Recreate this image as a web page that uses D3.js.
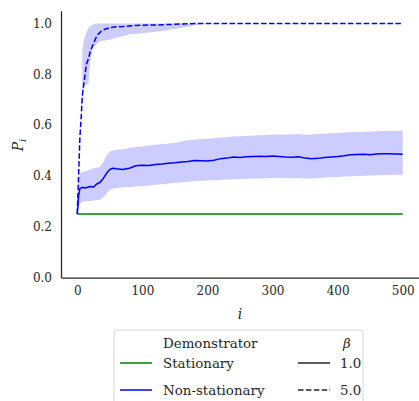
<!DOCTYPE html>
<html>
<head>
<meta charset="utf-8">
<script src="https://cdn.jsdelivr.net/npm/d3@7"></script>
<style>
  body { margin: 0; background: #fff; }
  svg text { font-family: "DejaVu Serif", serif; fill: #262626; }
</style>
</head>
<body>
<div id="chart"></div>
<script>
// P_i over trials i: demonstrator type (colour) x beta (line style).
// mean with a shaded spread band; stationary sits flat at 0.25.

var xTicks = [0, 100, 200, 300, 400, 500]
var yTicks = [0.0, 0.2, 0.4, 0.6, 0.8, 1.0]

var statI = [0, 500]
var statP = [0.25, 0.25]

// non-stationary, beta = 1.0 (solid)
var ns1I  = [0, 2, 4, 8, 12, 16, 20, 25, 30, 35, 40, 45, 50, 55, 60, 70, 80, 90, 100, 110, 120, 130, 140, 150, 160, 170, 180, 190, 200, 210, 220, 230, 240, 250, 260, 270, 280, 290, 300, 310, 320, 330, 340, 350, 360, 370, 380, 390, 400, 410, 420, 430, 440, 450, 460, 470, 480, 490, 500]
var ns1P  = [0.25, 0.32, 0.35, 0.355, 0.352, 0.355, 0.358, 0.356, 0.368, 0.375, 0.39, 0.41, 0.425, 0.43, 0.428, 0.425, 0.43, 0.44, 0.442, 0.441, 0.445, 0.447, 0.45, 0.452, 0.455, 0.457, 0.461, 0.46, 0.459, 0.462, 0.468, 0.47, 0.474, 0.472, 0.475, 0.476, 0.477, 0.476, 0.478, 0.476, 0.474, 0.473, 0.475, 0.47, 0.468, 0.469, 0.472, 0.474, 0.476, 0.479, 0.483, 0.484, 0.485, 0.483, 0.486, 0.487, 0.487, 0.486, 0.485]
var ns1Lo = [0.25, 0.27, 0.29, 0.298, 0.3, 0.302, 0.3, 0.303, 0.305, 0.306, 0.315, 0.33, 0.345, 0.35, 0.352, 0.355, 0.356, 0.358, 0.36, 0.362, 0.365, 0.367, 0.37, 0.372, 0.374, 0.377, 0.38, 0.381, 0.382, 0.383, 0.385, 0.386, 0.387, 0.388, 0.389, 0.39, 0.39, 0.391, 0.392, 0.392, 0.391, 0.391, 0.392, 0.39, 0.39, 0.392, 0.394, 0.395, 0.396, 0.398, 0.399, 0.4, 0.401, 0.402, 0.403, 0.404, 0.404, 0.405, 0.405]
var ns1Hi = [0.25, 0.38, 0.41, 0.415, 0.418, 0.42, 0.425, 0.43, 0.432, 0.436, 0.455, 0.48, 0.495, 0.5, 0.503, 0.505, 0.51, 0.514, 0.516, 0.52, 0.523, 0.525, 0.528, 0.53, 0.535, 0.54, 0.542, 0.545, 0.546, 0.548, 0.55, 0.553, 0.555, 0.556, 0.557, 0.559, 0.56, 0.561, 0.563, 0.563, 0.562, 0.563, 0.565, 0.562, 0.563, 0.565, 0.566, 0.568, 0.569, 0.571, 0.572, 0.573, 0.574, 0.575, 0.576, 0.577, 0.577, 0.578, 0.578]

// non-stationary, beta = 5.0 (dashed)
var ns5I  = [0, 2, 4, 6, 7, 8, 10, 12, 14, 17, 20, 24, 28, 32, 36, 40, 50, 60, 70, 80, 90, 100, 110, 120, 130, 140, 150, 160, 170, 180, 190, 200, 500]
var ns5P  = [0.25, 0.4, 0.55, 0.63, 0.68, 0.72, 0.76, 0.8, 0.84, 0.86, 0.89, 0.915, 0.94, 0.958, 0.968, 0.975, 0.984, 0.987, 0.988, 0.99, 0.992, 0.993, 0.994, 0.994, 0.995, 0.996, 0.997, 0.998, 0.999, 1.0, 1.0, 1.0, 1.0]
var ns5Lo = [0.25, 0.39, 0.54, 0.62, 0.67, 0.7, 0.75, 0.76, 0.76, 0.76, 0.85, 0.905, 0.915, 0.925, 0.93, 0.932, 0.936, 0.945, 0.95, 0.958, 0.96, 0.962, 0.965, 0.968, 0.97, 0.975, 0.978, 0.983, 0.987, 0.993, 0.997, 1.0, 1.0]
var ns5Hi = [0.25, 0.41, 0.56, 0.64, 0.7, 0.9, 0.93, 0.95, 0.965, 0.98, 0.99, 0.995, 1.0, 1.0, 1.0, 1.0, 1.0, 1.0, 1.0, 1.0, 1.0, 1.0, 1.0, 1.0, 1.0, 1.0, 1.0, 1.0, 1.0, 1.0, 1.0, 1.0, 1.0]

var W = 419, H = 401
var margin = {top: 10.8, right: 0, bottom: 123.5, left: 61}
var width = W - margin.left - margin.right
var height = H - margin.top - margin.bottom

var svg = d3.select('#chart').append('svg').attr('width', W).attr('height', H)
var g = svg.append('g').attr('transform', 'translate(' + margin.left + ',' + margin.top + ')')

var x = d3.scaleLinear().domain([-25, 525]).range([0, width])
var y = d3.scaleLinear().domain([0, 1.05]).range([height, 0])

function zip(is, a, b){
  return is.map(function(d, k){ return {i: d, a: a[k], b: b ? b[k] : null} })
}

var band = d3.area().x(function(d){ return x(d.i) })
  .y0(function(d){ return y(d.a) }).y1(function(d){ return y(d.b) })
var line = d3.line().x(function(d){ return x(d.i) }).y(function(d){ return y(d.a) })

// bands first
g.append('path').attr('d', band(zip(ns1I, ns1Lo, ns1Hi))).attr('fill', '#ccccff')
g.append('path').attr('d', band(zip(ns5I, ns5Lo, ns5Hi))).attr('fill', '#ccccff')

// lines
g.append('path').attr('d', line(zip(statI, statP)))
  .attr('fill', 'none').attr('stroke', '#008000').attr('stroke-width', 1.5)
g.append('path').attr('d', line(zip(ns1I, ns1P)))
  .attr('fill', 'none').attr('stroke', '#0000ff').attr('stroke-width', 1.5)
  .attr('stroke-linejoin', 'round')
g.append('path').attr('d', line(zip(ns5I, ns5P)))
  .attr('fill', 'none').attr('stroke', '#0000ff').attr('stroke-width', 1.5)
  .attr('stroke-dasharray', '5.5,2.4')

// axes: left + bottom spines only, no tick marks
var xAxis = g.append('g').attr('transform', 'translate(0,' + height + ')')
  .call(d3.axisBottom(x).tickValues(xTicks).tickSize(0).tickPadding(9).tickFormat(d3.format('d')))
var yAxis = g.append('g')
  .call(d3.axisLeft(y).tickValues(yTicks).tickSize(0).tickPadding(9).tickFormat(d3.format('.1f')))
g.selectAll('.domain').attr('stroke', '#262626').attr('stroke-width', 1.25)
g.selectAll('.tick text').attr('font-family', '"DejaVu Serif", serif').attr('font-size', 12).attr('fill', '#262626')

// axis labels
svg.append('text').text('i')
  .attr('x', margin.left + x(250)).attr('y', 319)
  .attr('text-anchor', 'middle').attr('font-style', 'italic').attr('font-size', 14)
var py = svg.append('text').attr('transform', 'translate(23,145) rotate(-90)')
  .attr('text-anchor', 'middle').attr('font-style', 'italic').attr('font-size', 14)
py.append('tspan').text('P')
py.append('tspan').text('i').attr('font-size', 10).attr('dy', 3)

// legend
var lg = svg.append('g').attr('transform', 'translate(114,330)')
lg.append('rect').attr('width', 249).attr('height', 80).attr('rx', 3)
  .attr('fill', '#fff').attr('stroke', '#cccccc').attr('stroke-width', 0.8)

var legText = function(t, lx, ly, italic){
  return lg.append('text').text(t).attr('x', lx).attr('y', ly)
    .attr('font-size', 13.4).attr('font-style', italic ? 'italic' : 'normal')
}
var legLine = function(lx, ly, color, dash){
  lg.append('line').attr('x1', lx).attr('x2', lx + 32).attr('y1', ly).attr('y2', ly)
    .attr('stroke', color).attr('stroke-width', 1.5).attr('stroke-dasharray', dash || null)
}
legText('Demonstrator', 49, 18)
legText('\u03b2', 229, 18, true)
legLine(6, 33, '#008000')
legText('Stationary', 49, 38)
legLine(184, 33, '#262626')
legText('1.0', 226, 38)
legLine(6, 60, '#0000ff')
legText('Non-stationary', 49, 65)
legLine(184, 60, '#262626', '5.5,2.4')
legText('5.0', 226, 65)
</script>
</body>
</html>
